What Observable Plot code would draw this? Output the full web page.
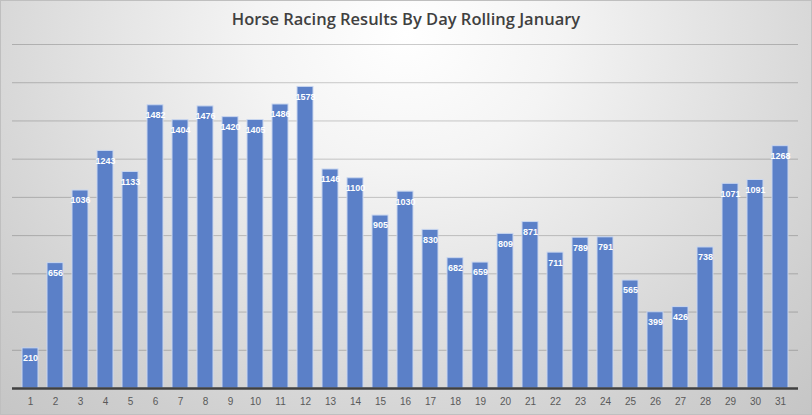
<!DOCTYPE html>
<html>
<head>
<meta charset="utf-8">
<script src="https://cdn.jsdelivr.net/npm/d3@7"></script>
<script src="https://cdn.jsdelivr.net/npm/@observablehq/plot@0.6"></script>
<style>
  html, body { margin: 0; padding: 0; }
  #chart {
    position: relative;
    width: 810px; height: 413px;
    border: 1px solid #bfbfbf;
    background: radial-gradient(ellipse 75% 130% at 50% 8%, #ffffff 0%, #f4f4f4 25%, #e0e0e0 55%, #cfcfcf 80%, #c4c4c4 100%);
    overflow: hidden;
  }
  #title {
    height: 33px;
    line-height: 36px;
    text-align: center;
    font-family: "Open Sans", sans-serif;
    font-weight: 600;
    font-size: 16.5px;
    color: #404040;
  }
</style>
</head>
<body>
<div id="chart"><div id="title">Horse Racing Results By Day Rolling January</div></div>
<script>
const days = d3.range(1, 32);
const results = [210, 656, 1036, 1243, 1133, 1482, 1404, 1476, 1420, 1405, 1486, 1578, 1146, 1100, 905, 1030, 830, 682, 659, 809, 871, 711, 789, 791, 565, 399, 426, 738, 1071, 1091, 1268];
const gridTicks = d3.range(0, 1801, 200);

const data = days.map((d, i) => ({day: d, value: results[i]}));

const plot = Plot.plot({
  width: 810,
  height: 380,
  marginTop: 10,
  marginBottom: 26,
  marginLeft: 6,
  marginRight: 8.5,
  style: {background: "transparent", fontFamily: "'Liberation Sans', Arial, sans-serif"},
  x: {type: "band", domain: days, padding: 0.38, label: null},
  y: {domain: [0, 1800], axis: null},
  marks: [
    Plot.ruleY(gridTicks.slice(1), {stroke: "#000", strokeOpacity: 0.2, strokeWidth: 1, insetLeft: 5, insetRight: 4.5}),
    Plot.barY(data, {x: "day", y: "value", fill: "#5b80c8", stroke: "#c9d6ef", strokeWidth: 1}),
    Plot.text(data, {x: "day", y: "value", text: d => String(d.value), dy: 10, fill: "#ffffff", fontWeight: "bold", fontSize: 9, lineAnchor: "middle"}),
    Plot.ruleY([0], {stroke: "#404040", strokeWidth: 2.5, insetLeft: 5, insetRight: 4.5}),
    Plot.axisX({tickSize: 0, tickPadding: 9, fontSize: 10, color: "#595959", label: null})
  ]
});
document.getElementById("chart").appendChild(plot);
</script>
</body>
</html>
